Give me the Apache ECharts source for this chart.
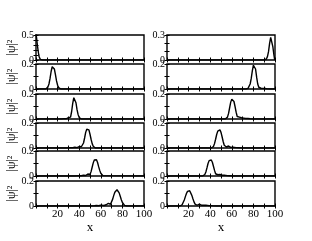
<!DOCTYPE html>
<html><head><meta charset="utf-8">
<script src="https://cdn.jsdelivr.net/npm/echarts@6/dist/echarts.min.js"></script>
<style>html,body{margin:0;padding:0;background:#fff}#c{width:312px;height:241px}</style>
</head><body><div id="c"></div>
<script>
// x ticks / labels
const xTickLabels = [20, 40, 60, 80, 100];
// y maximum per panel (left column, right column)
const leftYMax = [0.5, 0.2, 0.2, 0.2, 0.2, 0.2];
const rightYMax = [0.3, 0.2, 0.2, 0.2, 0.2, 0.2];

// left column |psi|^2 traces, [x, y]
const L1 = [[0,0.52],[0.5,0.45],[1,0.35],[1.5,0.26],[2,0.18],[2.5,0.11],[3,0.06],[3.5,0.03],[4,0.012],[5,0.003],[6,0],[100,0]];
const L2 = [[0,0],[9,0],[10,0.005],[11,0.015],[12,0.04],[13,0.085],[14,0.14],[15,0.178],[15.7,0.19],[16.5,0.178],[17,0.16],[18,0.115],[19,0.065],[20,0.03],[21,0.011],[22,0.004],[23,0],[100,0]];
const L3 = [[0,0],[24,0],[26,0.003],[27,0.004],[28,0.002],[29,0.006],[30,0.011],[31,0.006],[32,0.015],[33,0.06],[34,0.125],[35,0.17],[35.5,0.176],[36,0.17],[37,0.13],[38,0.075],[39,0.035],[40,0.012],[41,0.003],[42,0],[100,0]];
const L4 = [[0,0],[28,0],[32,0.003],[34,0.002],[36,0.006],[38,0.003],[40,0.012],[41,0.016],[42,0.01],[43,0.015],[44,0.04],[45,0.08],[46,0.125],[47,0.15],[48,0.155],[49,0.145],[50,0.11],[51,0.07],[52,0.035],[53,0.014],[54,0.004],[55,0],[100,0]];
const L5 = [[0,0],[36,0],[40,0.003],[42,0.002],[44,0.006],[46,0.004],[47,0.012],[48,0.016],[49,0.01],[50,0.012],[51,0.035],[52,0.07],[53,0.105],[54,0.128],[55,0.136],[56,0.13],[57,0.108],[58,0.075],[59,0.045],[60,0.022],[61,0.009],[62,0.003],[63,0],[100,0]];
const L6 = [[0,0],[50,0],[54,0.002],[56,0.004],[58,0.002],[60,0.007],[61,0.008],[63,0.004],[65,0.01],[66,0.018],[67,0.021],[68,0.015],[69,0.014],[70,0.03],[71,0.055],[72,0.085],[73,0.11],[74,0.126],[75,0.13],[76,0.124],[77,0.105],[78,0.078],[79,0.05],[80,0.028],[81,0.013],[82,0.005],[83,0.001],[84,0],[100,0]];

// right column |psi|^2 traces, [x, y]
const R1 = [[0,0],[90,0],[91,0.003],[92,0.012],[93,0.04],[94,0.1],[95,0.2],[96,0.27],[96.5,0.285],[97,0.26],[98,0.16],[99,0.06],[99.6,0.01],[100,0]];
const R2 = [[0,0],[73,0],[75,0.005],[76,0.015],[77,0.04],[78,0.085],[79,0.145],[80,0.19],[80.7,0.2],[81.5,0.185],[82,0.16],[83,0.095],[84,0.04],[85,0.014],[86,0.01],[87,0.006],[88,0.009],[89,0.005],[90,0.003],[91,0.004],[93,0.001],[95,0],[100,0]];
const R3 = [[0,0],[54,0],[55,0.004],[56,0.015],[57,0.045],[58,0.09],[59,0.135],[60,0.158],[61,0.16],[62,0.14],[63,0.1],[64,0.055],[65,0.02],[66,0.01],[67,0.015],[68,0.016],[69,0.01],[70,0.006],[71,0.007],[72,0.006],[73,0.004],[75,0.004],[77,0.002],[80,0],[100,0]];
const R4 = [[0,0],[41,0],[42,0.004],[43,0.012],[44,0.035],[45,0.07],[46,0.108],[47,0.135],[48,0.146],[49,0.145],[50,0.125],[51,0.09],[52,0.052],[53,0.022],[54,0.008],[55,0.008],[56,0.014],[57,0.016],[58,0.01],[59,0.005],[60,0.006],[61,0.006],[62,0.004],[64,0.003],[66,0.002],[70,0],[100,0]];
const R5 = [[0,0],[33,0],[34,0.004],[35,0.012],[36,0.032],[37,0.065],[38,0.1],[39,0.123],[40,0.131],[41,0.128],[42,0.11],[43,0.078],[44,0.045],[45,0.018],[46,0.007],[47,0.01],[48,0.016],[49,0.012],[50,0.006],[51,0.006],[52,0.008],[53,0.007],[54,0.004],[56,0.003],[58,0.002],[62,0],[100,0]];
const R6 = [[0,0],[12,0],[13,0.003],[14,0.01],[15,0.025],[16,0.048],[17,0.075],[18,0.1],[19,0.117],[20,0.124],[21,0.122],[22,0.108],[23,0.085],[24,0.058],[25,0.033],[26,0.015],[27,0.006],[28,0.006],[29,0.012],[30,0.016],[31,0.012],[32,0.006],[33,0.004],[34,0.006],[35,0.008],[36,0.007],[37,0.004],[39,0.003],[41,0.003],[43,0.001],[46,0],[100,0]];

const leftData = [L1, L2, L3, L4, L5, L6];
const rightData = [R1, R2, R3, R4, R5, R6];

const tops = [35, 64, 94, 123, 151, 181];
const H = 25;
const colLeft = [36, 167];
const W = 108;
const font = 'Liberation Serif, "Times New Roman", serif';

const grids = [], xAxes = [], yAxes = [], series = [];
[leftData, rightData].forEach((colData, c) => {
  const ymaxArr = c === 0 ? leftYMax : rightYMax;
  colData.forEach((data, r) => {
    const gi = grids.length;
    grids.push({left: colLeft[c], top: tops[r], width: W, height: H,
      show: true, borderColor: '#000', borderWidth: 1.4, backgroundColor: 'transparent'});
    const isBottom = r === 5;
    const ymax = ymaxArr[r];
    const xBase = {type: 'value', gridIndex: gi, min: 0, max: 100, interval: 10,
      axisLine: {show: false}, splitLine: {show: false},
      axisTick: {show: true, inside: true, length: 2.5, lineStyle: {color: '#000', width: 1}}};
    xAxes.push(Object.assign({}, xBase, {position: 'bottom',
      name: isBottom ? 'x' : '', nameLocation: 'middle', nameGap: 12,
      nameTextStyle: {fontFamily: font, fontSize: 13, color: '#000'},
      axisLabel: {show: isBottom, margin: 3, fontFamily: font, fontSize: 11, color: '#000',
        formatter: v => xTickLabels.indexOf(v) >= 0 ? String(v) : ''}}));
    xAxes.push(Object.assign({}, xBase, {position: 'top', axisLabel: {show: false}}));
    const yBase = {type: 'value', gridIndex: gi, min: 0, max: ymax, interval: 0.1,
      axisLine: {show: false}, splitLine: {show: false},
      axisTick: {show: true, inside: true, length: 2.5, lineStyle: {color: '#000', width: 1}}};
    yAxes.push(Object.assign({}, yBase, {position: 'left',
      name: c === 0 ? '|ψ|²' : '', nameLocation: 'middle', nameGap: 15, nameRotate: 90,
      nameTextStyle: {fontFamily: font, fontSize: 12, color: '#000'},
      axisLabel: {show: true, margin: 2, fontFamily: font, fontSize: 10, color: '#000',
        formatter: v => v === 0 ? '0' : (Math.abs(v - ymax) < 1e-9 ? String(ymax) : '')}}));
    yAxes.push(Object.assign({}, yBase, {position: 'right', axisLabel: {show: false}}));
    series.push({type: 'line', xAxisIndex: xAxes.length - 2, yAxisIndex: yAxes.length - 2,
      data: data, showSymbol: false, symbol: 'none', clip: true, animation: false,
      lineStyle: {color: '#000', width: 1.4}});
  });
});

const chart = echarts.init(document.getElementById('c'), null, {renderer: 'canvas'});
chart.setOption({animation: false, backgroundColor: '#fff', grid: grids, xAxis: xAxes, yAxis: yAxes, series: series});
</script></body></html>
